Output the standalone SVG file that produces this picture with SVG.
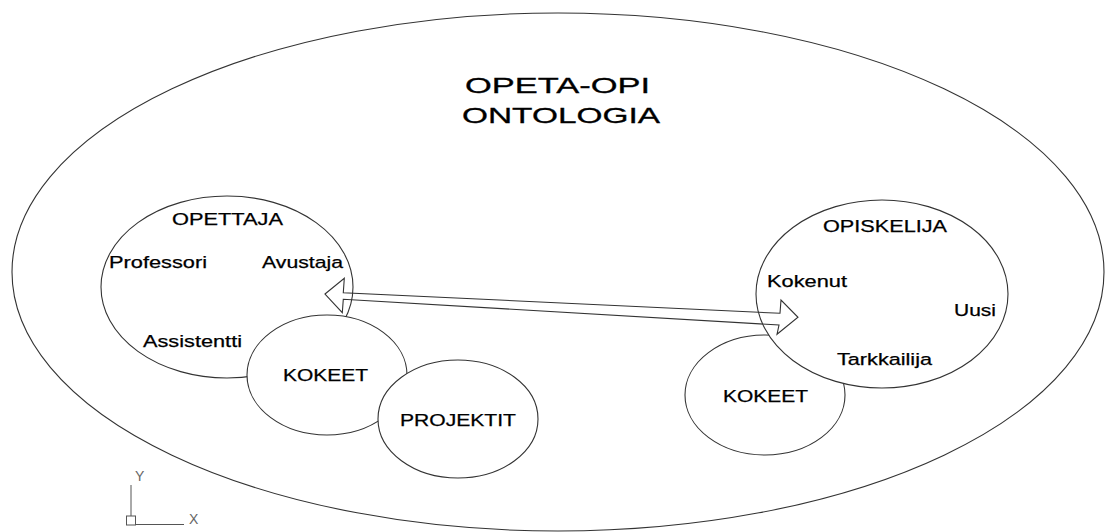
<svg xmlns="http://www.w3.org/2000/svg" width="1106" height="532" viewBox="0 0 1106 532">
  <style>
    .shape { fill: #fff; stroke: #333; stroke-width: 1.1; }
    .outer { fill: none; stroke: #333; stroke-width: 1.1; }
    .lbl { font-family: "Liberation Sans", Arial, sans-serif; font-size: 16.8px; fill: #000; stroke: #000; stroke-width: 0.25; }
    .title { font-family: "Liberation Sans", Arial, sans-serif; font-size: 21.8px; fill: #000; stroke: #000; stroke-width: 0.3; }
    .axis { fill: none; stroke: #555; stroke-width: 1; }
    .axislbl { font-family: "Liberation Sans", Arial, sans-serif; font-size: 14px; fill: #666; }
  </style>
  <rect width="1106" height="532" fill="#fff"/>

  <!-- ontology boundary -->
  <g id="ontology">
    <ellipse class="outer" cx="558" cy="272" rx="546" ry="259"/>
    <text class="title" x="465" y="92.7" textLength="185" lengthAdjust="spacingAndGlyphs">OPETA-OPI</text>
    <text class="title" x="462" y="123.3" textLength="198" lengthAdjust="spacingAndGlyphs">ONTOLOGIA</text>
  </g>

  <!-- teacher side -->
  <g id="opettaja">
    <ellipse class="shape" cx="227" cy="287" rx="126" ry="91"/>
    <text class="lbl" x="172" y="225" textLength="111" lengthAdjust="spacingAndGlyphs">OPETTAJA</text>
    <text class="lbl" x="109" y="267.7" textLength="98" lengthAdjust="spacingAndGlyphs">Professori</text>
    <text class="lbl" x="262" y="267.7" textLength="81" lengthAdjust="spacingAndGlyphs">Avustaja</text>
    <text class="lbl" x="143" y="346.7" textLength="99" lengthAdjust="spacingAndGlyphs">Assistentti</text>
  </g>
  <g id="kokeet-left">
    <ellipse class="shape" cx="327" cy="375" rx="80" ry="60"/>
    <text class="lbl" x="283" y="381" textLength="85" lengthAdjust="spacingAndGlyphs">KOKEET</text>
  </g>
  <g id="projektit">
    <ellipse class="shape" cx="458" cy="419" rx="80" ry="59"/>
    <text class="lbl" x="400" y="425.7" textLength="116" lengthAdjust="spacingAndGlyphs">PROJEKTIT</text>
  </g>

  <!-- student side -->
  <g id="kokeet-right">
    <ellipse class="shape" cx="765" cy="395" rx="80" ry="60"/>
    <text class="lbl" x="723" y="402" textLength="85" lengthAdjust="spacingAndGlyphs">KOKEET</text>
  </g>
  <g id="opiskelija">
    <ellipse class="shape" cx="882" cy="294" rx="126" ry="94"/>
    <text class="lbl" x="823" y="231.7" textLength="124" lengthAdjust="spacingAndGlyphs">OPISKELIJA</text>
    <text class="lbl" x="767" y="286.7" textLength="80" lengthAdjust="spacingAndGlyphs">Kokenut</text>
    <text class="lbl" x="954" y="315.7" textLength="42" lengthAdjust="spacingAndGlyphs">Uusi</text>
    <text class="lbl" x="837" y="365" textLength="95" lengthAdjust="spacingAndGlyphs">Tarkkailija</text>
  </g>

  <!-- two-way relation between teacher and student -->
  <g id="connectors">
    <polygon fill="none" stroke="#333" stroke-width="1.1" stroke-linejoin="miter"
      points="325,294 344.3,278.3 343.3,292.7 780,313.3 781,300 798,317.3 777,334.3 779,325 343.3,299.3 342.3,312.7"/>
  </g>

  <!-- coordinate system icon -->
  <g id="ucs">
    <line class="axis" x1="131" y1="485" x2="131" y2="516"/>
    <rect class="axis" x="126.5" y="516" width="9" height="9"/>
    <line class="axis" x1="135.5" y1="524.5" x2="184" y2="524.5"/>
    <text class="axislbl" x="135" y="481">Y</text>
    <text class="axislbl" x="189" y="524">X</text>
  </g>
</svg>
